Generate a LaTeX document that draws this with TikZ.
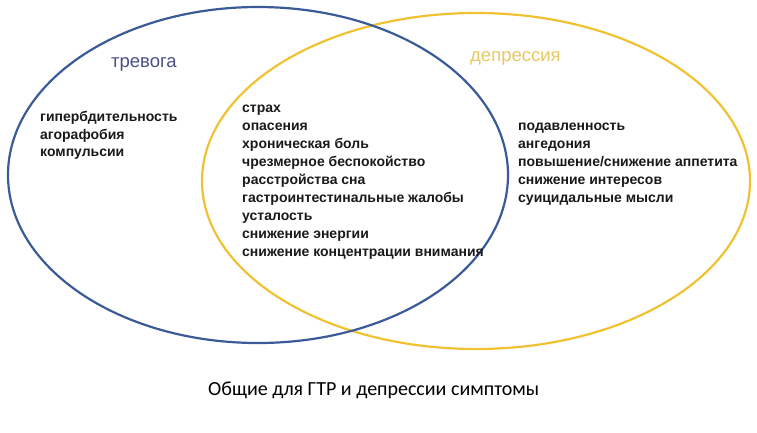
\documentclass[tikz,border=0pt]{standalone}
\usepackage{fontspec}
\setmainfont{Liberation Sans}
\newfontfamily\capfont{Carlito}
\definecolor{anxblue}{HTML}{3A5A98}
\definecolor{depyellow}{HTML}{F0C232}
\definecolor{anxlabel}{HTML}{4A4F88}
\definecolor{deplabel}{HTML}{E8C864}
\tikzset{
  setellipse/.style={line width=2.2pt},
  listtext/.style={anchor=base west, font=\fontsize{14}{18}\selectfont\bfseries, inner sep=0pt, text=black!90},
  setlabel/.style={anchor=base west, font=\fontsize{18.5}{20}\selectfont, inner sep=0pt}
}
\begin{document}
\begin{tikzpicture}[x=1pt,y=-1pt]
\useasboundingbox (0,0) rectangle (757,432);
\draw[setellipse, depyellow] (476,181) ellipse [x radius=274, y radius=168];
\draw[setellipse, anxblue] (258,175) ellipse [x radius=250, y radius=168];
\node[setlabel, text=anxlabel] (anx) at (111,67.5) {тревога};
\node[setlabel, text=deplabel] (dep) at (470,61.5) {депрессия};
\foreach \t [count=\i] in {гипербдительность,агорафобия,компульсии}
  \node[listtext] (l\i) at (40,{121.5+17.7*(\i-1)}) {\t};
\foreach \t [count=\i] in {страх,опасения,хроническая боль,чрезмерное беспокойство,расстройства сна,гастроинтестинальные жалобы,усталость,снижение энергии,снижение концентрации внимания}
  \node[listtext] (m\i) at (242,{112+18*(\i-1)}) {\t};
\foreach \t [count=\i] in {подавленность,ангедония,повышение/снижение аппетита,снижение интересов,суицидальные мысли}
  \node[listtext] (r\i) at (518,{130+18*(\i-1)}) {\t};
\node[anchor=base west, font=\capfont\fontsize{20}{22}\selectfont, inner sep=0pt] (cap) at (208,395.5) {Общие для ГТР и депрессии симптомы};
\end{tikzpicture}
\end{document}
